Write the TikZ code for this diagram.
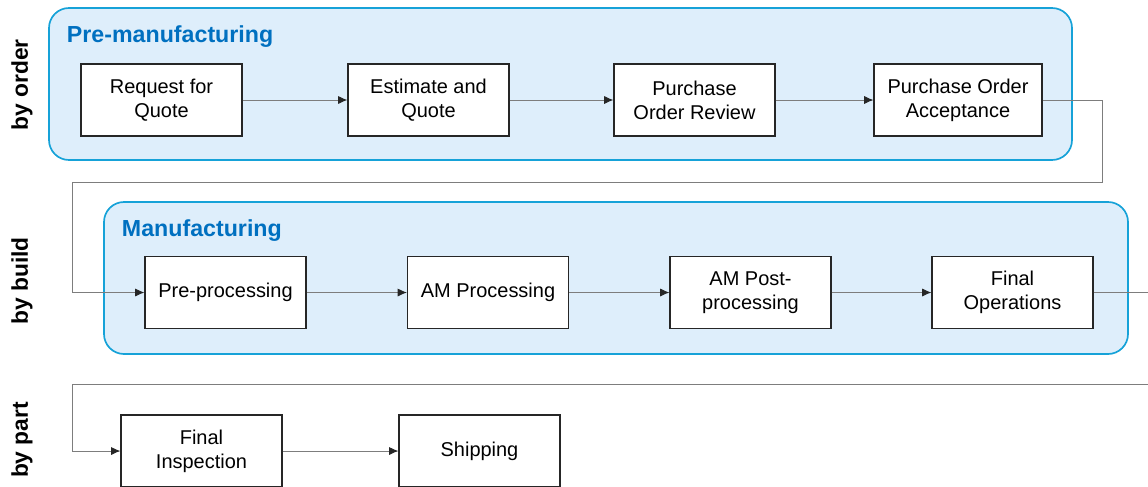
\documentclass[tikz,border=0pt]{standalone}
\usepackage{fontspec}
\setmainfont{Liberation Sans}
\usetikzlibrary{arrows.meta}

\definecolor{stageblue}{RGB}{0,112,192}
\definecolor{stagefill}{RGB}{222,238,251}
\definecolor{stageline}{RGB}{22,162,216}
\definecolor{flowgray}{RGB}{125,125,125}

\tikzset{
  stage/.style={draw=stageline, line width=1.2pt, fill=stagefill, rounded corners=0.5cm},
  stagetitle/.style={anchor=west, text=stageblue, font=\fontsize{16.5}{19}\selectfont\bfseries},
  level/.style={rotate=90, font=\fontsize{16.2}{19}\selectfont\bfseries},
  task/.style={draw=black!85, line width=0.8pt, fill=white, align=center,
    minimum width=4.025cm, minimum height=1.8cm, inner sep=2pt,
    font=\fontsize{14.2}{17}\selectfont},
  flow/.style={draw=flowgray, line width=0.6pt, -{Latex[length=2.3mm,width=2mm,color=black!85]}}
}

\begin{document}
\begin{tikzpicture}[x=0.025cm, y=-0.025cm]
  \useasboundingbox (0,0) rectangle (1148,486);
  \clip (0,0) rectangle (1148,486);

  % stage backgrounds
  \draw[stage] (49,8) rectangle (1072,160);
  \draw[stage] (104,202) rectangle (1128,354);
  \node[stagetitle] (premfg) at (62,36.5) {Pre-manufacturing};
  \node[stagetitle] (mfg) at (117,231) {Manufacturing};

  % levels
  \node[level] (byorder) at (22,85) {by order};
  \node[level] (bybuild) at (22,281) {by build};
  \node[level] (bypart) at (22,440) {by part};

  % order level
  \node[task] (rfq) at (161.5,100) {Request for\\Quote};
  \node[task] (estimate) at (428.5,100) {Estimate and\\Quote};
  \node[task] (poreview) at (694.5,100) {Purchase\\Order Review};
  \node[task, minimum width=4.2cm] (poaccept) at (958,100) {Purchase Order\\Acceptance};

  % build level
  \node[task] (preproc) at (225.5,292.5) {Pre-processing};
  \node[task] (amproc) at (488,292.5) {AM Processing};
  \node[task] (postproc) at (750.5,292.5) {AM Post-\\processing};
  \node[task] (finalops) at (1012.5,292.5) {Final\\Operations};

  % part level
  \node[task] (inspect) at (201.5,451) {Final\\Inspection};
  \node[task] (shipping) at (479.5,451) {Shipping};

  % bends between levels
  \coordinate (orderright) at (1102,182);
  \coordinate (orderleft) at (72,182);
  \coordinate (buildright) at (1170,384);
  \coordinate (buildleft) at (72,384);

  \draw[flow] (rfq) -- (estimate);
  \draw[flow] (estimate) -- (poreview);
  \draw[flow] (poreview) -- (poaccept);
  \draw[flow] (poaccept) -| (orderright) -- (orderleft) |- (preproc);

  \draw[flow] (preproc) -- (amproc);
  \draw[flow] (amproc) -- (postproc);
  \draw[flow] (postproc) -- (finalops);
  \draw[flow] (finalops) -| (buildright) -- (buildleft) |- (inspect);

  \draw[flow] (inspect) -- (shipping);
\end{tikzpicture}
\end{document}
